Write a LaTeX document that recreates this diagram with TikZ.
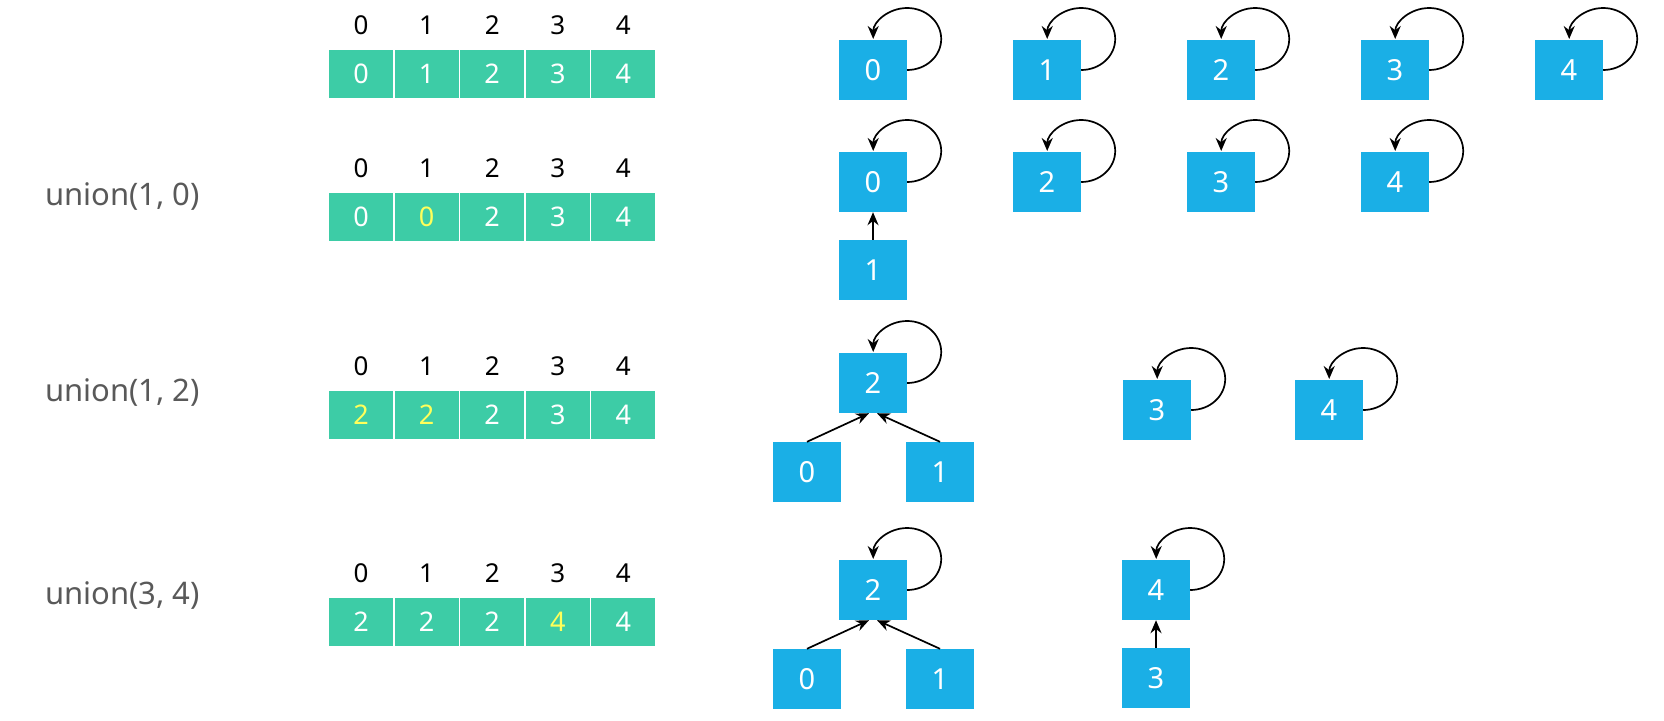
\documentclass[tikz,border=0pt]{standalone}
\usepackage{fontspec}
\setmainfont{Noto Sans}
\usetikzlibrary{arrows.meta}
\definecolor{cellteal}{RGB}{61,204,166}
\definecolor{boxblue}{RGB}{26,175,230}
\definecolor{hlyellow}{RGB}{255,255,90}
\definecolor{labelgray}{RGB}{89,89,89}
\tikzset{
  cell/.style={rectangle, minimum width=65.6pt, minimum height=49pt, inner sep=0pt,
    fill=cellteal, draw=white, line width=1.5pt, font=\fontsize{27}{30}\selectfont},
  idx/.style={inner sep=0pt, text=black, font=\fontsize{26}{30}\selectfont},
  tn/.style={rectangle, minimum width=68pt, minimum height=60pt, inner sep=0pt,
    fill=boxblue, text=white, font=\fontsize{29}{34}\selectfont},
  oplabel/.style={anchor=west, inner sep=0pt, text=labelgray, font=\fontsize{31}{36}\selectfont},
  loopedge/.style={line width=1.7pt, -{Stealth[length=13pt,width=11pt]}},
  edge/.style={line width=1.7pt, -{Stealth[length=13pt,width=11pt]}}
}
\newcommand\cellrow[4]{%
  \foreach[count=\i from 0] \v/\c in {#4} {
    \node[cell,text=\c] (c#1-\i) at ({361+65.6*\i},#2) {\v};
    \node[idx] (i#1-\i) at ({361+65.6*\i},#3) {\i};
  }}
\newcommand\selfloop[1]{\draw[loopedge] (#1.east) arc[start angle=-90,end angle=180,x radius=34pt,y radius=31pt];}
\begin{document}
\begin{tikzpicture}[x=1pt,y=-1pt]
\useasboundingbox (0,0) rectangle (1664,720);
\fill[white] (0,0) rectangle (1664,720);

% arrays
\cellrow{1}{74}{25}{0/white,1/white,2/white,3/white,4/white}
\cellrow{2}{217}{168}{0/white,0/hlyellow,2/white,3/white,4/white}
\cellrow{3}{415}{366}{2/hlyellow,2/hlyellow,2/white,3/white,4/white}
\cellrow{4}{622}{573}{2/white,2/white,2/white,4/hlyellow,4/white}

% operation labels
\node[oplabel] (op2) at (45,197) {union(1, 0)};
\node[oplabel] (op3) at (45,393) {union(1, 2)};
\node[oplabel] (op4) at (45,596) {union(3, 4)};

% row 1 trees
\node[tn] (a0) at (873,70) {0};
\node[tn] (a1) at (1047,70) {1};
\node[tn] (a2) at (1221,70) {2};
\node[tn] (a3) at (1395,70) {3};
\node[tn] (a4) at (1569,70) {4};
\foreach \n in {a0,a1,a2,a3,a4} {\selfloop{\n}}

% row 2 trees
\node[tn] (b0) at (873,182) {0};
\node[tn] (b1) at (873,270) {1};
\node[tn] (b2) at (1047,182) {2};
\node[tn] (b3) at (1221,182) {3};
\node[tn] (b4) at (1395,182) {4};
\foreach \n in {b0,b2,b3,b4} {\selfloop{\n}}
\draw[edge] (b1.north) -- (b0.south);

% row 3 trees
\node[tn] (d2) at (873,383) {2};
\node[tn] (d0) at (807,472) {0};
\node[tn] (d1) at (940,472) {1};
\node[tn] (d3) at (1157,410) {3};
\node[tn] (d4) at (1329,410) {4};
\foreach \n in {d2,d3,d4} {\selfloop{\n}}
\draw[edge] (d0.north) -- ([xshift=-4pt]d2.south);
\draw[edge] (d1.north) -- ([xshift=4pt]d2.south);

% row 4 trees
\node[tn] (e2) at (873,590) {2};
\node[tn] (e0) at (807,679) {0};
\node[tn] (e1) at (940,679) {1};
\node[tn] (e4) at (1156,590) {4};
\node[tn] (e3) at (1156,678) {3};
\foreach \n in {e2,e4} {\selfloop{\n}}
\draw[edge] (e0.north) -- ([xshift=-4pt]e2.south);
\draw[edge] (e1.north) -- ([xshift=4pt]e2.south);
\draw[edge] (e3.north) -- (e4.south);
\end{tikzpicture}
\end{document}
